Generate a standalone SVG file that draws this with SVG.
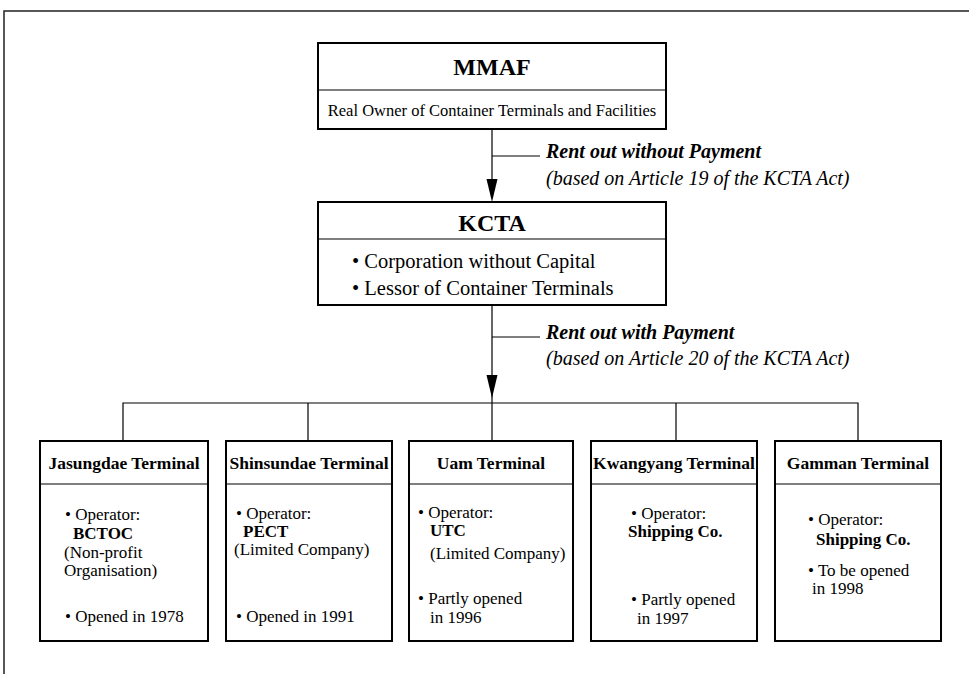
<svg xmlns="http://www.w3.org/2000/svg" width="969" height="674" viewBox="0 0 969 674">
<style>
text{font-family:"Liberation Serif","Times New Roman",serif;fill:#000}
.box{fill:#fff;stroke:#000;stroke-width:2}
.div{stroke:#000;stroke-width:1.2}
.ln{stroke:#000;stroke-width:1.2;fill:none}
.frame{stroke:#222;stroke-width:1.5;fill:none}
.h1{font-size:24px;font-weight:bold;text-anchor:middle}
.sub{font-size:16.5px;text-anchor:middle}
.kb{font-size:20.5px}
.lb{font-size:20px;font-style:italic;font-weight:bold}
.li{font-size:20px;font-style:italic}
.tt{font-size:17.5px;font-weight:bold;text-anchor:middle}
.t{font-size:17px}
.tb{font-size:17px;font-weight:bold}
</style>
<rect width="969" height="674" fill="#fff"/>
<path class="frame" d="M4,674 V11 H969"/>

<g id="connectors">
<line class="ln" x1="492" y1="129" x2="492" y2="180"/>
<path d="M486.5,179 L497.5,179 L492,202 Z" fill="#000"/>
<line class="ln" x1="492" y1="156" x2="540" y2="156"/>
<line class="ln" x1="492" y1="305" x2="492" y2="441"/>
<path d="M486.5,375 L497.5,375 L492,398 Z" fill="#000"/>
<line class="ln" x1="492" y1="337" x2="540" y2="337"/>
<path class="ln" d="M123,441 V403 H858 V441 M308,403 V441 M676,403 V441"/>
<g id="label1">
<text class="lb" x="546" y="158">Rent out without Payment</text>
<text class="li" x="546" y="185">(based on Article 19 of the KCTA Act)</text>
</g>
<g id="label2">
<text class="lb" x="546" y="339">Rent out with Payment</text>
<text class="li" x="546" y="365">(based on Article 20 of the KCTA Act)</text>
</g>
</g>

<g id="mmaf">
<rect class="box" x="318" y="43" width="348" height="86"/>
<line class="div" x1="318" y1="90" x2="666" y2="90"/>
<text class="h1" x="492" y="75">MMAF</text>
<text class="sub" x="492" y="116">Real Owner of Container Terminals and Facilities</text>
</g>

<g id="kcta">
<rect class="box" x="318" y="202" width="348" height="103"/>
<line class="div" x1="318" y1="239" x2="666" y2="239"/>
<text class="h1" x="492" y="231">KCTA</text>
<text class="kb" x="352" y="268">• Corporation without Capital</text>
<text class="kb" x="352" y="295">• Lessor of Container Terminals</text>
</g>

<g id="jasungdae">
<rect class="box" x="40" y="441" width="168" height="200"/>
<line class="div" x1="40" y1="484" x2="208" y2="484"/>
<text class="tt" x="124" y="469">Jasungdae Terminal</text>
<text class="t" x="65" y="520">• Operator:</text>
<text class="tb" x="73" y="539">BCTOC</text>
<text class="t" x="64" y="558">(Non-profit</text>
<text class="t" x="64" y="576">Organisation)</text>
<text class="t" x="65" y="622">• Opened in 1978</text>
</g>

<g id="shinsundae">
<rect class="box" x="226" y="441" width="166" height="200"/>
<line class="div" x1="226" y1="484" x2="392" y2="484"/>
<text class="tt" x="309" y="469">Shinsundae Terminal</text>
<text class="t" x="236" y="519">• Operator:</text>
<text class="tb" x="243" y="537">PECT</text>
<text class="t" x="234" y="555">(Limited Company)</text>
<text class="t" x="236" y="622">• Opened in 1991</text>
</g>

<g id="uam">
<rect class="box" x="409" y="441" width="164" height="200"/>
<line class="div" x1="409" y1="484" x2="573" y2="484"/>
<text class="tt" x="491" y="469">Uam Terminal</text>
<text class="t" x="418" y="518">• Operator:</text>
<text class="tb" x="430" y="536">UTC</text>
<text class="t" x="430" y="559">(Limited Company)</text>
<text class="t" x="418" y="604">• Partly opened</text>
<text class="t" x="430" y="623">in 1996</text>
</g>

<g id="kwangyang">
<rect class="box" x="591" y="441" width="166" height="200"/>
<line class="div" x1="591" y1="484" x2="757" y2="484"/>
<text class="tt" x="674" y="469">Kwangyang Terminal</text>
<text class="t" x="631" y="519">• Operator:</text>
<text class="tb" x="628" y="537">Shipping Co.</text>
<text class="t" x="631" y="605">• Partly opened</text>
<text class="t" x="637" y="624">in 1997</text>
</g>

<g id="gamman">
<rect class="box" x="775" y="441" width="166" height="200"/>
<line class="div" x1="775" y1="484" x2="941" y2="484"/>
<text class="tt" x="858" y="469">Gamman Terminal</text>
<text class="t" x="808" y="525">• Operator:</text>
<text class="tb" x="816" y="545">Shipping Co.</text>
<text class="t" x="808" y="576">• To be opened</text>
<text class="t" x="812" y="594">in 1998</text>
</g>
</svg>
